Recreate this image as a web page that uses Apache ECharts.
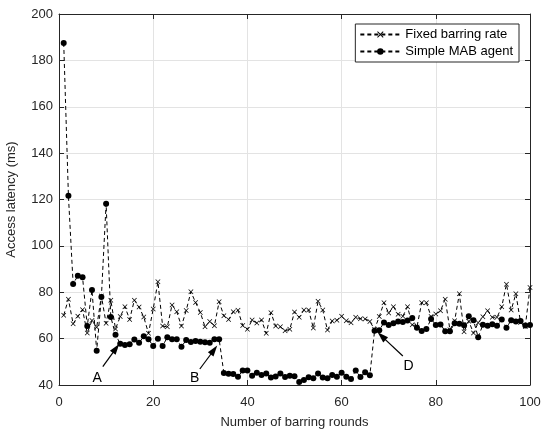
<!DOCTYPE html>
<html>
<head>
<meta charset="utf-8">
<title>Access latency</title>
<script src="https://cdn.jsdelivr.net/npm/echarts@6/dist/echarts.min.js"></script>
<style>
  html, body { margin: 0; padding: 0; background: #fff; }
  #main { width: 542px; height: 430px; }
</style>
</head>
<body>
<div id="main"></div>
<script>
// rounds 1..100
var rounds = Array.from({length: 100}, function (v, i) { return i + 1; });

var fixedRate = [
    70.1, 77.0, 66.4, 69.6, 72.4, 62.4, 67.8, 64.9, 78.4, 66.6,
    76.6, 64.2, 69.5, 73.7, 68.3, 76.6, 73.6, 69.3, 62.3, 72.8,
    84.5, 65.4, 65.1, 74.5, 71.6, 65.4, 72.1, 80.2, 75.6, 71.3,
    65.1, 67.4, 65.6, 75.9, 69.9, 68.2, 71.6, 72.2, 65.7, 64.0,
    68.0, 66.7, 68.0, 62.3, 71.2, 65.4, 65.1, 63.4, 64.0, 71.5,
    69.2, 72.3, 72.3, 64.6, 76.1, 72.3, 63.7, 67.6, 67.9, 69.6,
    67.7, 66.9, 69.2, 68.6, 68.5, 67.4, 64.0, 69.5, 75.5, 71.0,
    73.8, 70.5, 69.7, 73.7, 66.0, 65.0, 75.5, 75.5, 69.5, 70.6,
    72.0, 77.0, 63.8, 67.7, 79.3, 63.0, 67.5, 62.4, 66.8, 69.4,
    72.0, 69.2, 69.2, 73.7, 83.5, 72.3, 79.3, 67.0, 65.2, 82.1
];

var mabAgent = [
    187.5, 121.6, 83.6, 87.1, 86.5, 65.4, 81.0, 54.8, 78.0, 118.2,
    69.3, 61.7, 57.8, 57.2, 57.6, 59.6, 58.2, 61.0, 59.7, 56.8,
    59.9, 56.8, 60.6, 59.7, 59.7, 56.5, 59.4, 58.5, 59.0, 58.6,
    58.4, 58.2, 59.7, 59.7, 45.2, 44.9, 44.7, 43.6, 46.2, 46.2,
    44.0, 45.3, 44.3, 45.0, 43.2, 43.7, 45.0, 43.4, 44.0, 43.8,
    41.3, 42.2, 43.3, 42.9, 45.0, 43.2, 42.9, 44.3, 43.6, 45.3,
    43.6, 42.6, 46.2, 43.4, 45.5, 44.2, 63.4, 63.6, 67.0, 65.9,
    66.6, 67.4, 67.2, 67.8, 68.9, 64.7, 63.3, 64.1, 68.5, 65.9,
    66.1, 63.2, 63.2, 66.6, 66.4, 65.8, 69.6, 67.9, 60.6, 66.0,
    65.6, 66.2, 65.5, 68.3, 64.7, 67.9, 67.4, 67.6, 65.7, 65.9
];

// annotation arrows (data coordinates): letter, letter pos, arrow tail, arrow tip
var noteLabels = ['A', 'B', 'D'];
var notePos = [[8.1, 43.1], [28.8, 43.1], [74.2, 48.3]];
var arrowFrom = [[9.3, 47.9], [29.9, 46.9], [73.0, 52.5]];
var arrowTo = [[12.1, 55.8], [32.9, 55.1], [68.5, 61.1]];

var xTicks = {min: 0, max: 100, interval: 20};
var yTicks = {min: 40, max: 200, interval: 20};

var FONT = 'Liberation Sans, Arial, Helvetica, sans-serif';
var TXT = '#262626';
var crossSym = 'path://M0,1L1,0L5,4L9,0L10,1L6,5L10,9L9,10L5,6L1,10L0,9L4,5Z';

function pairs(vals) {
    return vals.map(function (v, i) { return [rounds[i], v]; });
}

var chart = echarts.init(document.getElementById('main'), null, {renderer: 'canvas'});

var axisCommon = {
    axisLine: {show: true, onZero: false, lineStyle: {color: TXT, width: 1}},
    axisTick: {show: true, inside: true, length: 5, lineStyle: {color: TXT}}
};

chart.setOption({
    backgroundColor: '#fff',
    animation: false,
    textStyle: {fontFamily: FONT},
    grid: {left: 59, right: 12, top: 14, bottom: 45, containLabel: false, outerBoundsMode: 'none'},
    legend: {
        right: 23,
        top: 24,
        orient: 'vertical',
        itemWidth: 40,
        itemHeight: 8,
        itemGap: 4,
        padding: [4, 6, 4, 4],
        borderColor: TXT,
        borderWidth: 1,
        backgroundColor: '#fff',
        textStyle: {fontFamily: FONT, fontSize: 13, color: '#000'},
        data: ['Fixed barring rate', 'Simple MAB agent']
    },
    xAxis: [
        Object.assign({
            type: 'value',
            min: xTicks.min, max: xTicks.max, interval: xTicks.interval,
            name: 'Number of barring rounds',
            nameLocation: 'middle',
            nameGap: 31,
            nameTextStyle: {fontFamily: FONT, fontSize: 13, color: TXT},
            axisLabel: {fontFamily: FONT, fontSize: 13, color: TXT, margin: 11},
            splitLine: {show: true, lineStyle: {color: '#e3e3e3', width: 1}}
        }, axisCommon),
        Object.assign({
            type: 'value', position: 'top',
            min: xTicks.min, max: xTicks.max, interval: xTicks.interval,
            axisLabel: {show: false},
            splitLine: {show: false}
        }, axisCommon)
    ],
    yAxis: [
        Object.assign({
            type: 'value',
            min: yTicks.min, max: yTicks.max, interval: yTicks.interval,
            name: 'Access latency (ms)',
            nameLocation: 'middle',
            nameGap: 41,
            nameTextStyle: {fontFamily: FONT, fontSize: 13, color: TXT},
            axisLabel: {fontFamily: FONT, fontSize: 13, color: TXT, margin: 6},
            splitLine: {show: true, lineStyle: {color: '#e3e3e3', width: 1}}
        }, axisCommon),
        Object.assign({
            type: 'value', position: 'right',
            min: yTicks.min, max: yTicks.max, interval: yTicks.interval,
            axisLabel: {show: false},
            splitLine: {show: false}
        }, axisCommon)
    ],
    series: [
        {
            name: 'Fixed barring rate',
            type: 'line',
            data: pairs(fixedRate),
            symbol: crossSym,
            symbolSize: 5,
            showAllSymbol: true,
            itemStyle: {color: '#000'},
            lineStyle: {color: '#000', width: 1, type: [4, 3]},
            z: 3
        },
        {
            name: 'Simple MAB agent',
            type: 'line',
            data: pairs(mabAgent),
            symbol: 'circle',
            symbolSize: 6,
            showAllSymbol: true,
            itemStyle: {color: '#000'},
            lineStyle: {color: '#000', width: 1, type: [4, 3]},
            z: 4
        },
        {
            name: 'notes',
            type: 'line',
            data: [],
            silent: true,
            markLine: {
                silent: true,
                symbol: ['none', 'path://M0,10L5,0L10,10Z'],
                symbolSize: [7, 11],
                lineStyle: {color: '#000', width: 1.2, type: 'solid'},
                label: {show: false},
                data: arrowFrom.map(function (p, i) {
                    return [{coord: p}, {coord: arrowTo[i]}];
                })
            },
            markPoint: {
                silent: true,
                symbol: 'circle',
                symbolSize: 0,
                label: {
                    show: true,
                    position: 'inside',
                    fontFamily: FONT,
                    fontSize: 14,
                    color: '#000',
                    formatter: function (p) { return p.name; }
                },
                data: notePos.map(function (p, i) {
                    return {name: noteLabels[i], coord: p};
                })
            }
        }
    ]
});
</script>
</body>
</html>
